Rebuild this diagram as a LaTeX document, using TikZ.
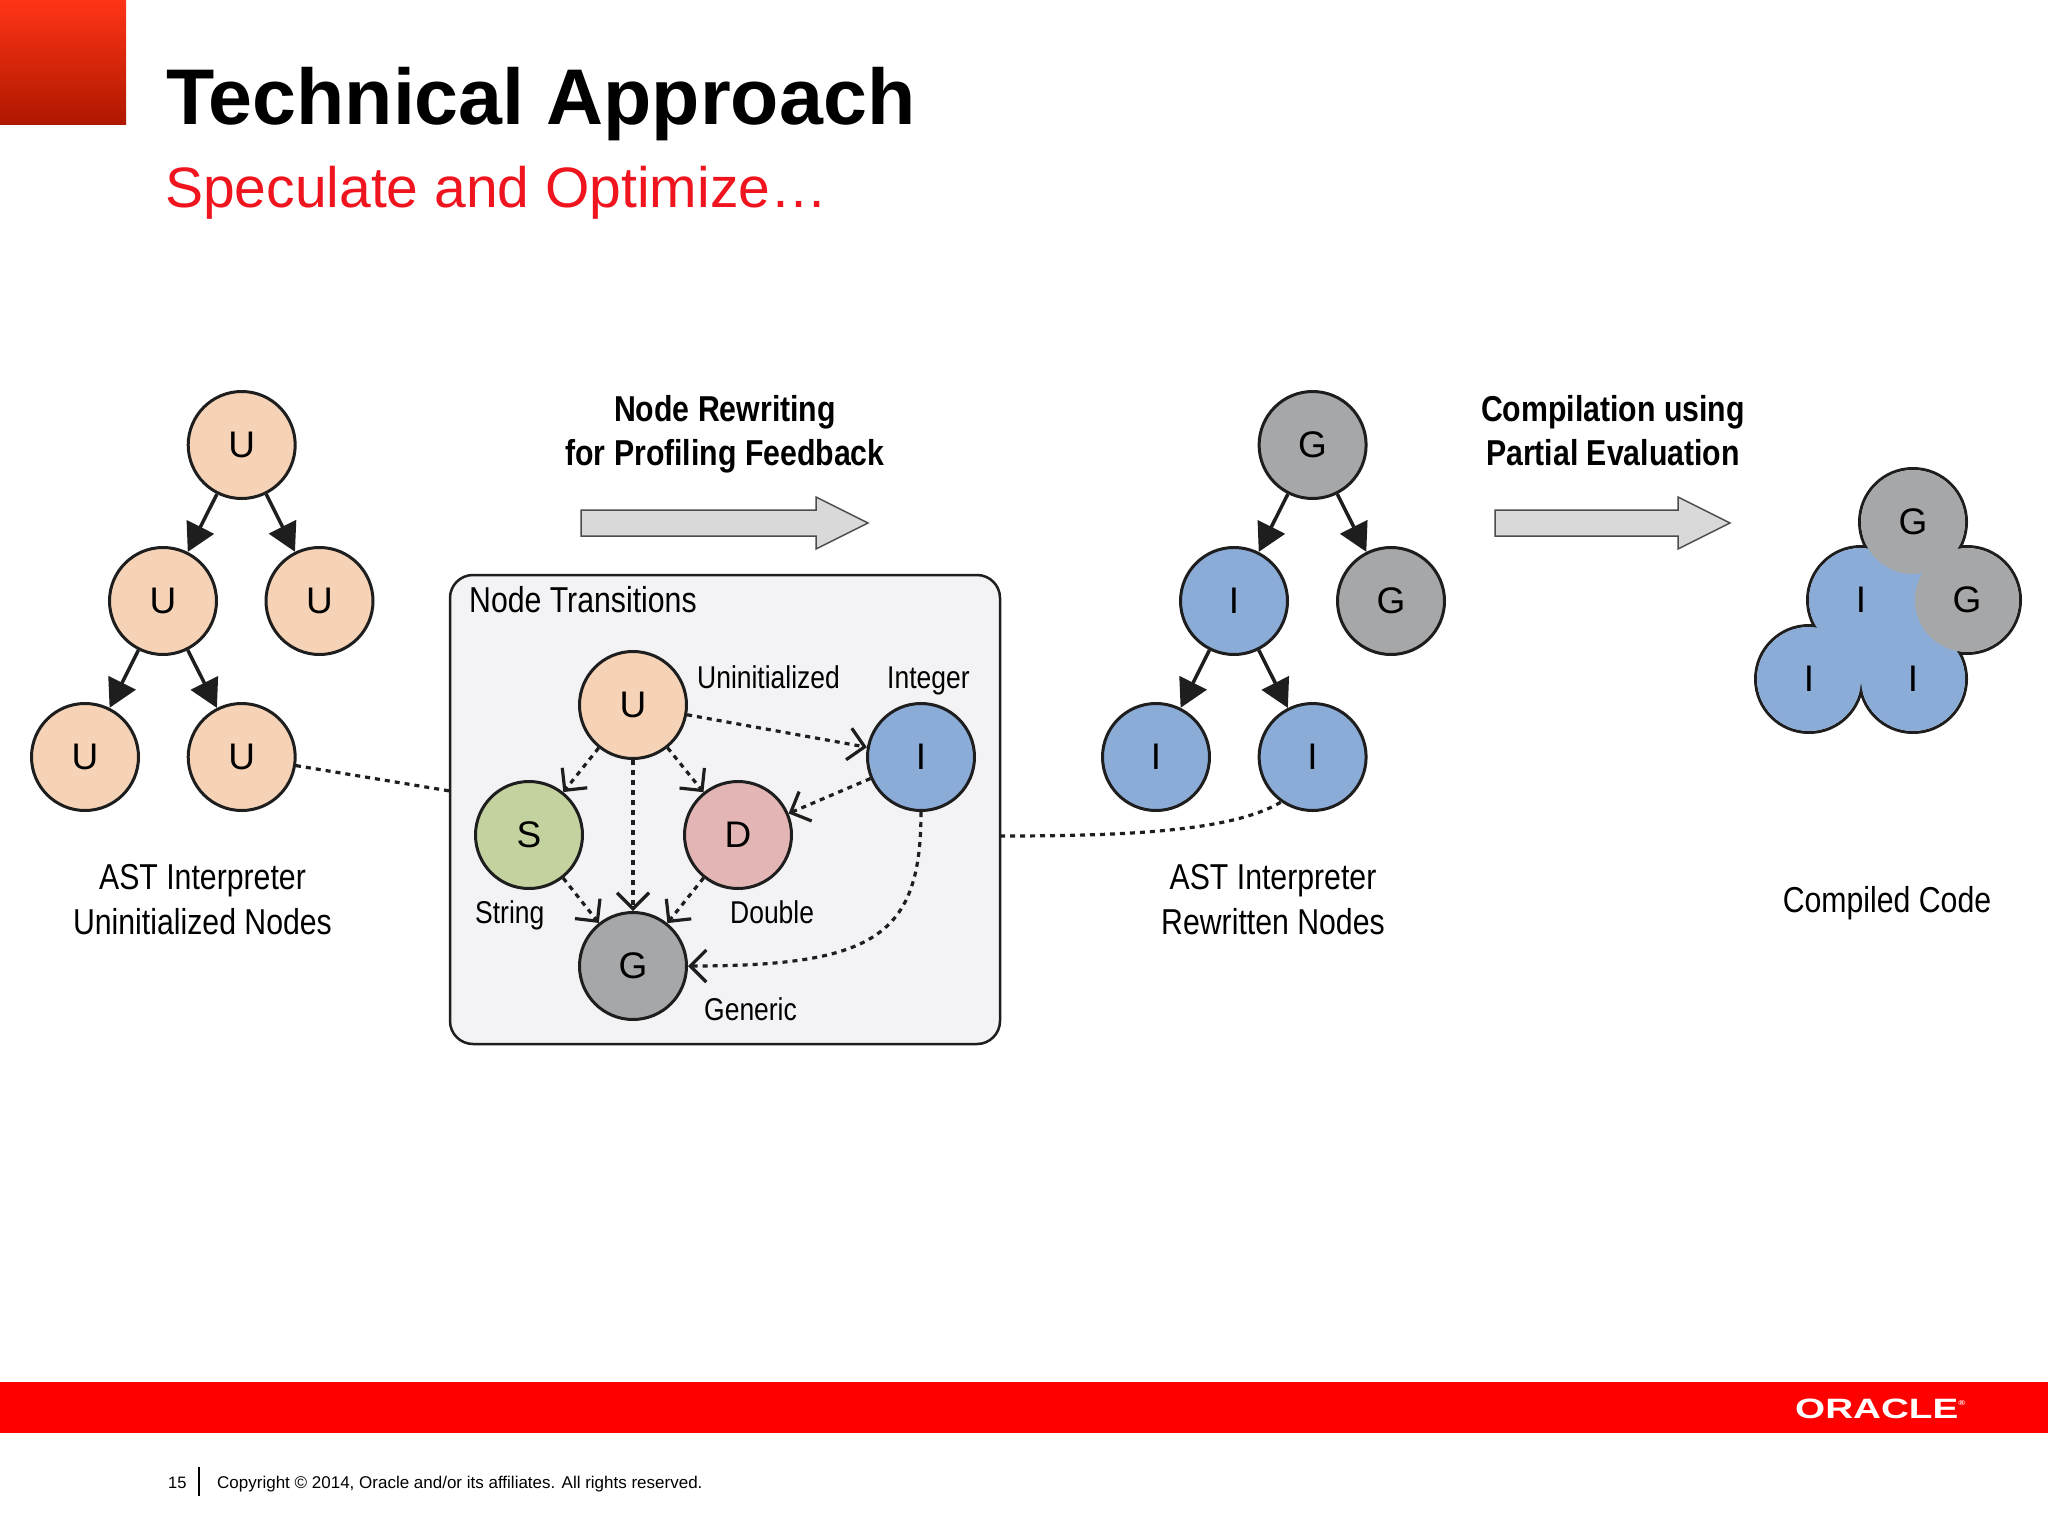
\documentclass[tikz,border=0pt]{standalone}
\usepackage{fontspec}
\setmainfont{Liberation Sans}
\newfontfamily\lab[FakeStretch=0.84]{Liberation Sans}
\newfontfamily\orc[FakeStretch=1.38]{Liberation Sans}
\usetikzlibrary{arrows.meta}
\definecolor{peach}{HTML}{F6D3B7}
\definecolor{blu}{HTML}{8CACD8}
\definecolor{gry}{HTML}{A6A7A9}
\definecolor{grn}{HTML}{C3D29F}
\definecolor{pnk}{HTML}{E3B6B5}
\definecolor{ink}{HTML}{1E1E1E}
\definecolor{oracred}{HTML}{FF0000}
\definecolor{subred}{HTML}{F0141E}
\definecolor{boxfill}{HTML}{F3F2F5}
\definecolor{sqtop}{HTML}{FF3416}
\definecolor{sqmid}{HTML}{D62800}
\definecolor{sqbot}{HTML}{AE1800}
\tikzset{
  x=1pt,y=-1pt,
  circ/.style={circle,draw=ink,line width=3pt,minimum size=107pt,inner sep=0pt,font=\fontsize{37}{37}\selectfont},
  blob/.style={circle,minimum size=104pt,inner sep=0pt,font=\fontsize{37}{37}\selectfont},
  solidarr/.style={draw=ink,line width=3.5pt,-{Triangle[length=28pt,width=30pt]}},
  dasharr/.style={draw=ink,line width=3.2pt,dash pattern=on 5pt off 5pt,-{Straight Barb[length=16pt,width=32pt,line width=3.2pt]}},
  dashline/.style={draw=ink,line width=3.2pt,dash pattern=on 5pt off 5pt},
  bigarrow/.style={draw=black!70,line width=1.5pt,fill=black!15,line join=miter},
  lbl/.style={anchor=base,align=center,inner sep=0pt,font=\lab\fontsize{36}{44.5}\selectfont},
  lblb/.style={anchor=base,align=center,inner sep=0pt,font=\lab\bfseries\fontsize{36}{43.5}\selectfont},
  small/.style={anchor=base west,inner sep=0pt,font=\lab\fontsize{31.5}{31.5}\selectfont},
}
\begin{document}
\begin{tikzpicture}
\useasboundingbox (0,0) rectangle (2048,1536);
\fill[white] (0,0) rectangle (2048,1536);
% header
\shade[top color=sqtop,middle color=sqmid,bottom color=sqbot] (0,0) rectangle (126,125);
\node[anchor=base west,inner sep=0pt,font=\bfseries\fontsize{79}{79}\selectfont] (title) at (166,125) {Technical Approach};
\node[anchor=base west,inner sep=0pt,text=subred,font=\fontsize{57}{57}\selectfont] (subtitle) at (165,207) {Speculate and Optimize…};
% footer
\fill[oracred] (0,1382) rectangle (2048,1433);
\node[anchor=base west,inner sep=0pt,text=white,font=\orc\bfseries\fontsize{28}{28}\selectfont] (oracle) at (1795,1418) {ORACLE\raisebox{13pt}{\orc\fontsize{7}{7}\selectfont ®}};
\node[anchor=base west,inner sep=0pt,font=\fontsize{16.5}{16.5}\selectfont] (pg) at (168,1488) {15};
\draw[black,line width=1.5pt] (199,1467) -- (199,1496);
\node[anchor=base west,inner sep=0pt,font=\fontsize{17}{17}\selectfont] (copy) at (217,1488) {Copyright © 2014, Oracle and/or its affiliates. All rights reserved.};

% left tree
\node[circ,fill=peach] (a1) at (241.7,445) {U};
\node[circ,fill=peach] (a2) at (163,601) {U};
\node[circ,fill=peach] (a3) at (319.5,601) {U};
\node[circ,fill=peach] (a4) at (85,757) {U};
\node[circ,fill=peach] (a5) at (241.7,757) {U};
\draw[solidarr] (a1) -- (a2);
\draw[solidarr] (a1) -- (a3);
\draw[solidarr] (a2) -- (a4);
\draw[solidarr] (a2) -- (a5);
\node[lbl] (alabel) at (202.5,934) {AST Interpreter\\Uninitialized Nodes};

% top arrows and labels
\node[lblb] (rw) at (725,465) {Node Rewriting\\for Profiling Feedback};
\draw[bigarrow] (581,510) -- (816,510) -- (816,497) -- (868,523) -- (816,549) -- (816,536) -- (581,536) -- cycle;
\node[lblb] (cp) at (1613,465) {Compilation using\\Partial Evaluation};
\draw[bigarrow] (1495,510) -- (1678,510) -- (1678,497) -- (1730,523) -- (1678,549) -- (1678,536) -- (1495,536) -- cycle;

% transitions box
\node[draw=ink,line width=2.5pt,fill=boxfill,rounded corners=23pt,minimum width=550pt,minimum height=469pt,inner sep=0pt] (box) at (725,809.5) {};
\coordinate (boxL) at (450,791);
\coordinate (boxR) at (1000,836);
\node[small,font=\lab\fontsize{36}{36}\selectfont] (nt) at (469,612) {Node Transitions};
\node[circ,fill=peach] (u) at (633,705) {U};
\node[circ,fill=grn] (s) at (529,835) {S};
\node[circ,fill=pnk] (d) at (738,835) {D};
\node[circ,fill=blu] (i) at (921,757) {I};
\node[circ,fill=gry] (g) at (633,966) {G};
\draw[dasharr] (u) -- (i);
\draw[dasharr] (u) -- (s);
\draw[dasharr] (u) -- (d);
\draw[dasharr] (u) -- (g);
\draw[dasharr] (s) -- (g);
\draw[dasharr] (d) -- (g);
\draw[dasharr] (i) -- (d);
\draw[dasharr] (i.south) .. controls +(0,124) and +(187,0) .. (g.east);
\node[small] (t1) at (697,688) {Uninitialized};
\node[small] (t2) at (887,688) {Integer};
\node[small] (t3) at (475,923) {String};
\node[small] (t4) at (730,923) {Double};
\node[small] (t5) at (704,1020) {Generic};
\draw[dashline] (a5.-9) -- (boxL);

% right tree
\node[circ,fill=gry] (b1) at (1312.6,445) {G};
\node[circ,fill=blu] (b2) at (1234,601) {I};
\node[circ,fill=gry] (b3) at (1391,601) {G};
\node[circ,fill=blu] (b4) at (1156,757) {I};
\node[circ,fill=blu] (b5) at (1312.6,757) {I};
\draw[solidarr] (b1) -- (b2);
\draw[solidarr] (b1) -- (b3);
\draw[solidarr] (b2) -- (b4);
\draw[solidarr] (b2) -- (b5);
\node[lbl] (blabel) at (1273,934) {AST Interpreter\\Rewritten Nodes};
\draw[dashline] (boxR) .. controls +(120,0) and +(-50,30) .. (b5.-125);

% compiled code: outlines first, then fills that merge the circles
\node[circ] (c1) at (1913,522) {};
\node[circ] (c2) at (1967,600) {};
\node[circ] (c3) at (1861,600) {};
\node[circ] (c4) at (1809,679) {};
\node[circ] (c5) at (1913,679) {};
\fill[blu] (c3.center) -- (c4.center) -- (c5.center) -- (c2.center) -- (c1.center) -- cycle;
\node[blob,fill=blu] (f3) at (1861,600) {I};
\node[blob,fill=blu] (f4) at (1809,679) {I};
\node[blob,fill=blu] (f5) at (1913,679) {I};
\node[blob,fill=gry] (f2) at (1967,600) {G};
\node[blob,fill=gry] (f1) at (1913,522) {G};
\node[lbl] (clabel) at (1887,912) {Compiled Code};
\end{tikzpicture}
\end{document}
